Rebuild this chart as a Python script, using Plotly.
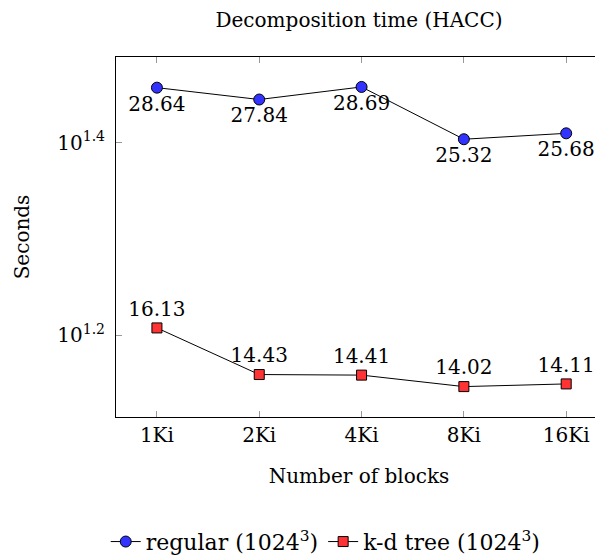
import plotly.graph_objects as go

blocks = ["1Ki", "2Ki", "4Ki", "8Ki", "16Ki"]
regular = [28.64, 27.84, 28.69, 25.32, 25.68]
kd_tree = [16.13, 14.43, 14.41, 14.02, 14.11]
ytick_exps = [1.2, 1.4]

FONT = "DejaVu Serif"
SIZE = 20
x = list(range(len(blocks)))

fig = go.Figure()
fig.add_trace(
    go.Scatter(
        x=x,
        y=regular,
        mode="lines+markers+text",
        line=dict(color="black", width=1),
        marker=dict(symbol="circle", size=11, color="#3333ff", line=dict(color="black", width=1)),
        text=[f"{v:.2f}" for v in regular],
        textposition="bottom center",
        textfont=dict(family=FONT, size=SIZE, color="black"),
        name="regular (1024<sup>3</sup>)",
        cliponaxis=False,
    )
)
fig.add_trace(
    go.Scatter(
        x=x,
        y=kd_tree,
        mode="lines+markers+text",
        line=dict(color="black", width=1),
        marker=dict(symbol="square", size=10, color="#ff3333", line=dict(color="black", width=1)),
        text=[f"{v:.2f}" for v in kd_tree],
        textposition="top center",
        textfont=dict(family=FONT, size=SIZE, color="black"),
        name="k-d tree (1024<sup>3</sup>)",
        cliponaxis=False,
    )
)

# page body has an 8px default margin, so the figure is 8px smaller than the window
fig.update_layout(
    width=595,
    height=548,
    margin=dict(l=108, r=1, t=49, b=139),
    paper_bgcolor="white",
    plot_bgcolor="white",
    font=dict(family=FONT, size=SIZE, color="black"),
    title=dict(
        text="Decomposition time (HACC)",
        x=0.5,
        xref="paper",
        xanchor="center",
        y=0.99,
        yref="container",
        yanchor="top",
        pad=dict(t=0, b=0),
        font=dict(family=FONT, size=SIZE, color="black"),
    ),
    showlegend=True,
    legend=dict(
        orientation="h",
        x=0.534,
        xref="container",
        xanchor="center",
        y=0.026,
        yref="container",
        yanchor="middle",
        font=dict(family=FONT, size=22, color="black"),
        bgcolor="rgba(0,0,0,0)",
        itemwidth=30,
    ),
)

fig.update_xaxes(
    range=[-0.4, 4.35],
    tickvals=x,
    ticktext=blocks,
    ticks="inside",
    ticklen=6,
    tickcolor="#999999",
    showline=True,
    linecolor="black",
    linewidth=1,
    mirror="ticks",
    showgrid=False,
    zeroline=False,
    title=dict(text="Number of blocks", standoff=22, font=dict(family=FONT, size=SIZE)),
    tickfont=dict(family=FONT, size=SIZE),
)
fig.update_yaxes(
    type="log",
    range=[1.1152, 1.4888],
    tickvals=[10 ** e for e in ytick_exps],
    ticktext=[f"10<sup>{e}</sup>" for e in ytick_exps],
    ticks="inside",
    ticklen=6,
    tickcolor="#999999",
    showline=True,
    linecolor="black",
    linewidth=1,
    mirror="ticks",
    showgrid=False,
    zeroline=False,
    ticklabelstandoff=6,
    title=dict(text="Seconds", standoff=22, font=dict(family=FONT, size=SIZE)),
    tickfont=dict(family=FONT, size=SIZE),
)

fig.write_html("out.html")
